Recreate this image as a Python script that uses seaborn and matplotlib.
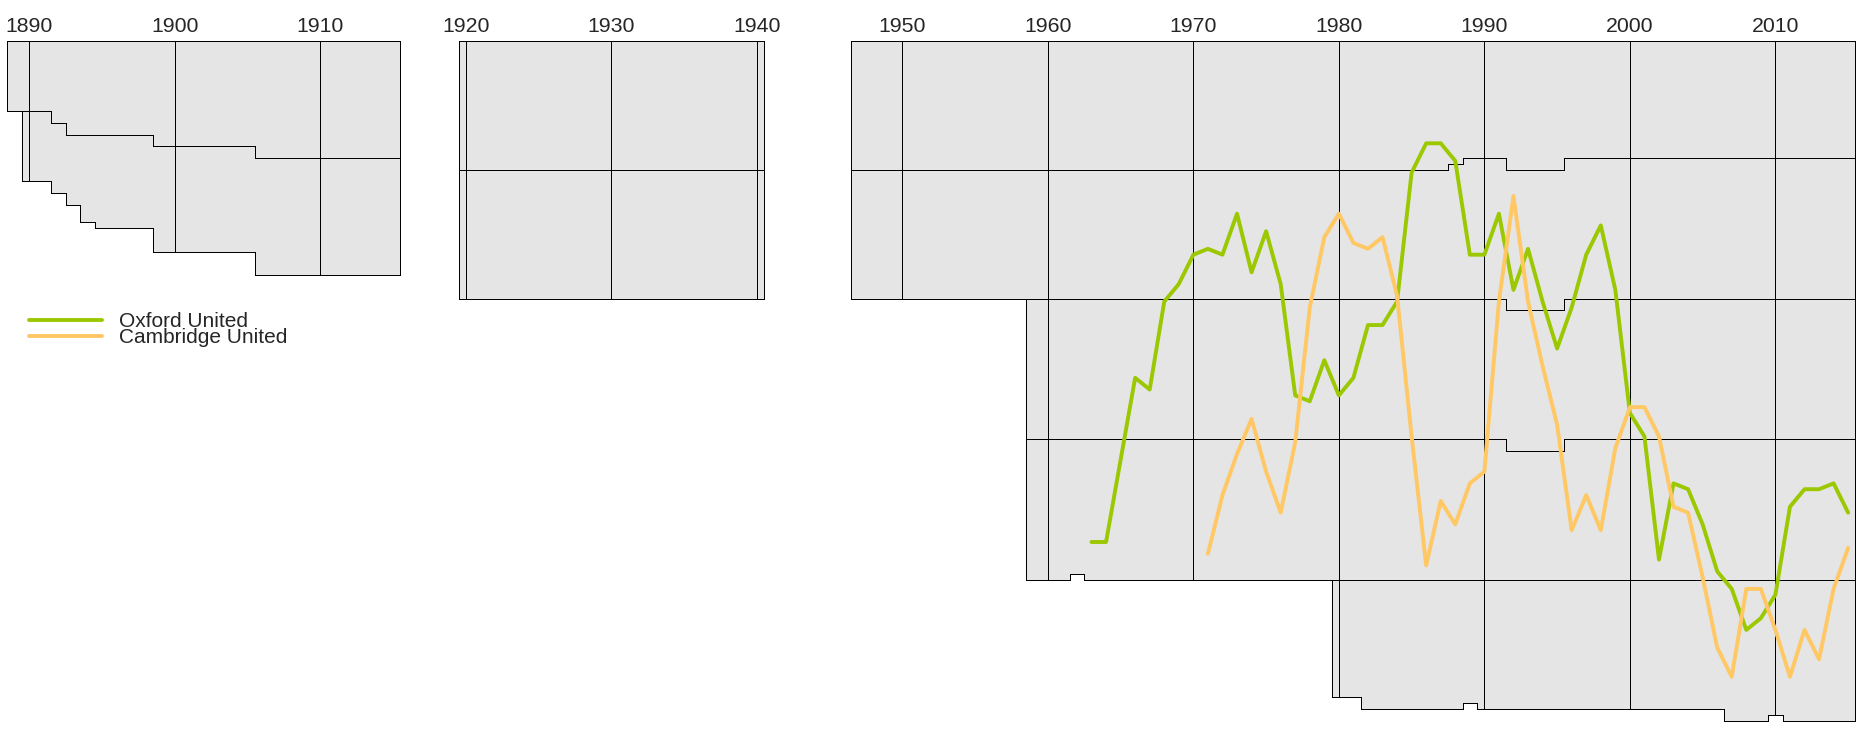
import numpy as np
import pandas as pd
import seaborn as sns
import matplotlib.pyplot as plt

# seasons are labelled by the year they ended (1888-89 -> 1889)
PERIODS = [(1889, 1915), (1920, 1940), (1947, 2015)]

# clubs in each tier: (first season, clubs), holding until the next entry
TIER_SIZES = {
    1: [(1889, 12), (1892, 14), (1893, 16), (1899, 18), (1906, 20), (1920, 22),
        (1988, 21), (1989, 20), (1992, 22), (1996, 20)],
    2: [(1889, 0), (1890, 12), (1894, 15), (1895, 16), (1899, 18), (1906, 20),
        (1920, 22), (1988, 23), (1989, 24)],
    3: [(1889, 0), (1959, 24)],
    4: [(1889, 0), (1959, 24), (1962, 23), (1963, 24), (1992, 22), (1996, 24)],
    5: [(1889, 0), (1980, 20), (1982, 22), (1989, 21), (1990, 22), (2007, 24),
        (2010, 23), (2011, 24)],
}

# overall finishing position (1 = top of the top flight)
oxford_seasons = list(range(1963, 2016))
oxford_pos = [86, 86, 72, 58, 60, 45, 42, 37, 36, 37, 30, 40, 33, 42, 61, 62, 55, 61,
              58, 49, 49, 45, 23, 18, 18, 21, 37, 37, 30, 43, 36, 45, 53, 46, 37, 32,
              43, 64, 68, 89, 76, 77, 83, 91, 94, 101, 99, 95, 80, 77, 77, 76, 81]
cambridge_seasons = list(range(1971, 2016))
cambridge_pos = [88, 78, 71, 65, 74, 81, 69, 46, 34, 30, 35, 36, 34, 44, 68, 90, 79, 83,
                 76, 74, 45, 27, 45, 56, 66, 84, 78, 84, 70, 63, 63, 68, 80, 81, 92, 104,
                 109, 94, 94, 101, 109, 101, 106, 94, 87]

CLUBS = ["Oxford United", "Cambridge United"]
COLORS = {"Oxford United": "#9bc800", "Cambridge United": "#ffc864"}
GRAY = "#e5e5e5"

teams = pd.concat([
    pd.DataFrame({"season": oxford_seasons, "pos": oxford_pos, "club": CLUBS[0]}),
    pd.DataFrame({"season": cambridge_seasons, "pos": cambridge_pos, "club": CLUBS[1]}),
])

sns.set_style("white")
plt.rcParams["font.family"] = ["Liberation Sans", "DejaVu Sans"]


def expand(changes, seasons):
    out = np.zeros(len(seasons))
    for start, n in changes:
        out[seasons >= start] = n
    return out


fig = plt.figure(figsize=(18.64, 7.5), dpi=100)
ax = fig.add_axes([0, 0, 1, 1 - 40.7 / 750])

for a, b in PERIODS:
    s = np.arange(a, b + 1)
    edges = np.append(s - 0.5, s[-1] + 0.5)
    sizes = np.array([expand(TIER_SIZES[k], s) for k in range(1, 6)])
    bounds = 0.5 + np.vstack([np.zeros(len(s)), np.cumsum(sizes, axis=0)])
    ax.stairs(bounds[-1], edges, baseline=0.5, fill=True, color=GRAY, lw=0, zorder=1)
    # crisp 1px outlines, so boundaries shared by two tiers don't look heavier
    for k in range(1, 6):
        ax.stairs(bounds[k], edges, baseline=bounds[k - 1], color="black", lw=0.55,
                  antialiased=False, zorder=2)
    dec = np.isin(s, np.arange(1890, 2011, 10))
    ax.vlines(s[dec], 0.5, bounds[-1][dec], color="black", lw=0.55,
              antialiased=False, zorder=2)

sns.lineplot(data=teams, x="season", y="pos", hue="club", hue_order=CLUBS,
             palette=COLORS, lw=2.8, ax=ax, zorder=3)

ax.set_xlim(1887.986, 2016.09)
ax.set_ylim(121.48, 0.5)
ax.xaxis.tick_top()
ax.set_xticks(range(1890, 2011, 10))
ax.tick_params(axis="x", length=0, pad=3.5, labelsize=15.3)
ax.set_yticks([])
ax.set_xlabel(None)
ax.set_ylabel(None)
sns.despine(ax=ax, left=True, bottom=True, right=True, top=True)

handles, labels = ax.get_legend_handles_labels()
leg = ax.legend(handles, labels, loc="upper left",
                bbox_to_anchor=(29 / 1864, 1 - 312 / 750), bbox_transform=fig.transFigure,
                frameon=False, fontsize=15, handlelength=3.5, handletextpad=0.8,
                labelspacing=-0.12, borderpad=0, borderaxespad=0)
for line in leg.get_lines():
    line.set_linewidth(2.8)

fig.savefig("out.png", dpi=100)
